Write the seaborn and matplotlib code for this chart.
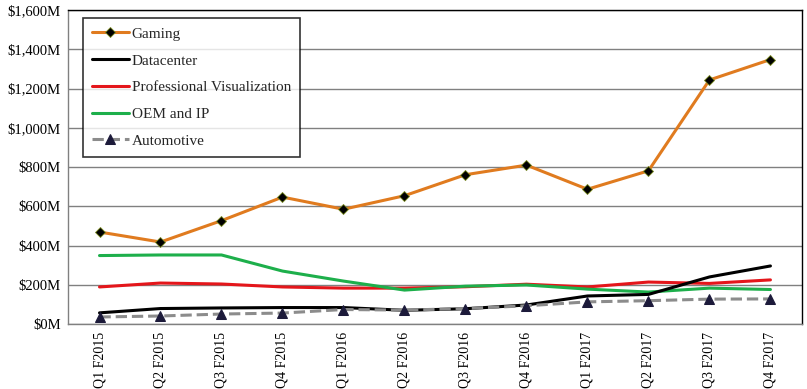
import pandas as pd
import matplotlib.pyplot as plt
import seaborn as sns
from matplotlib.ticker import FuncFormatter

quarters = ['Q1 F2015', 'Q2 F2015', 'Q3 F2015', 'Q4 F2015',
            'Q1 F2016', 'Q2 F2016', 'Q3 F2016', 'Q4 F2016',
            'Q1 F2017', 'Q2 F2017', 'Q3 F2017', 'Q4 F2017']
gaming = [469, 418, 527, 647, 585, 654, 761, 810, 687, 781, 1244, 1348]
datacenter = [57, 79, 82, 84, 84, 70, 78, 97, 143, 151, 240, 296]
pro_vis = [189, 209, 204, 189, 183, 183, 190, 203, 189, 214, 207, 225]
oem_ip = [349, 352, 352, 270, 219, 173, 193, 199, 178, 163, 183, 176]
automotive = [36, 41, 51, 56, 74, 71, 79, 93, 113, 119, 127, 128]

sns.set_theme(style="white")
plt.rcParams['font.family'] = ['Liberation Serif', 'DejaVu Serif']

fig = plt.figure(figsize=(8.07, 3.89), dpi=100)
ax = fig.add_axes([0.084, 0.167, 0.91, 0.807])

x = list(range(len(quarters)))
sns.lineplot(x=x, y=gaming, ax=ax, color='#E07B1F', lw=2.2, marker='D',
             markersize=5.5, markerfacecolor='black', markeredgecolor='#7a8a20',
             markeredgewidth=0.6, label='Gaming', zorder=6)
sns.lineplot(x=x, y=datacenter, ax=ax, color='black', lw=2.2, label='Datacenter', zorder=5)
sns.lineplot(x=x, y=pro_vis, ax=ax, color='#E4161B', lw=2.2,
             label='Professional Visualization', zorder=4)
sns.lineplot(x=x, y=oem_ip, ax=ax, color='#1DAF4B', lw=2.2, label='OEM and IP', zorder=4)
sns.lineplot(x=x, y=automotive, ax=ax, color='#8c8c8c', lw=2.2, linestyle='--',
             marker='^', markersize=7, markerfacecolor='#1c1a3a',
             markeredgecolor='#1c1a3a', label='Automotive', zorder=5)

ax.set_xlim(-0.52, 11.52)
ax.set_ylim(0, 1600)
ax.set_yticks(range(0, 1601, 200))
ax.yaxis.set_major_formatter(FuncFormatter(lambda v, p: f'${int(v):,}M'))
ax.set_xticks(x)
ax.set_xticklabels(quarters, rotation=90)
ax.tick_params(axis='x', labelsize=10, colors='black', length=0, pad=6)
ax.tick_params(axis='y', labelsize=10.5, colors='black', length=0, pad=5)
ax.grid(axis='y', color='#808080', lw=1)
ax.set_axisbelow(True)
for s in ax.spines.values():
    s.set_color('black')
    s.set_linewidth(1)
ax.spines['left'].set_color('#808080')
ax.spines['bottom'].set_color('#808080')

leg = ax.legend(loc='upper left', bbox_to_anchor=(0.0204, 0.975), borderaxespad=0,
                fontsize=11, frameon=True, fancybox=False, edgecolor='black',
                handlelength=2.4, labelspacing=0.85, borderpad=0.6, handletextpad=0.2)
leg.get_frame().set_linewidth(1.2)

plt.savefig('out.png', dpi=100)
